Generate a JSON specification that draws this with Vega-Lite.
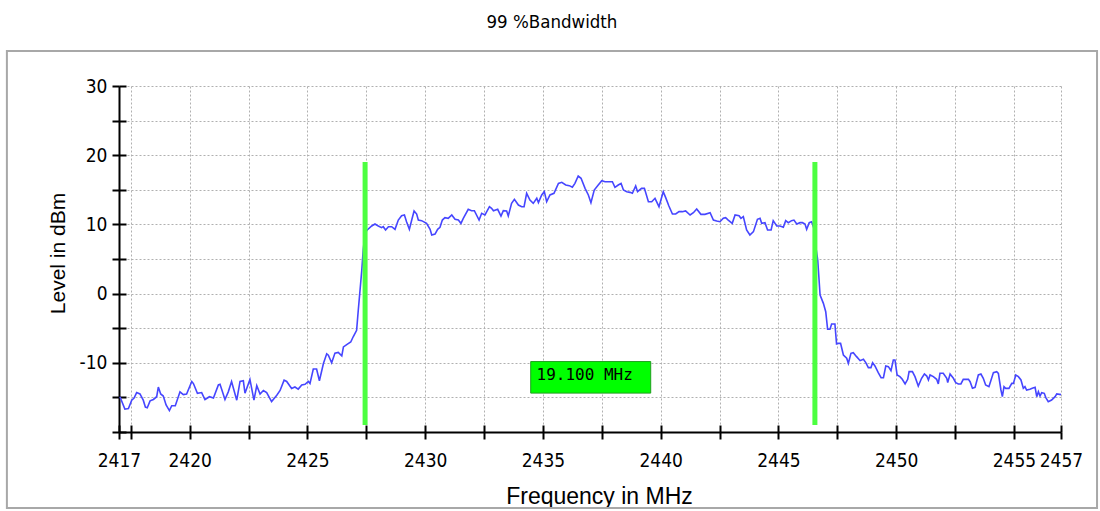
{
  "$schema": "https://vega.github.io/schema/vega-lite/v6.json",
  "autosize": {"type": "none"},
  "width": 942,
  "height": 346,
  "padding": {"left": 119, "top": 86, "right": 39, "bottom": 79},
  "background": "white",
  "config": {"view": {"stroke": null}, "font": "Liberation Sans"},
  "title": {"text": "99 %Bandwidth", "frame": "bounds", "anchor": "middle", "font": "DejaVu Sans Condensed, sans-serif", "fontSize": 18.5, "fontWeight": "normal", "color": "black", "offset": 18},
  "datasets": {
    "trace": [
      {"f":2417.04,"dBm":-14.9},{"f":2417.25,"dBm":-16.7},{"f":2417.40,"dBm":-16.6},{"f":2417.54,"dBm":-15.4},{"f":2417.64,"dBm":-15.1},{"f":2417.75,"dBm":-14.3},{"f":2417.89,"dBm":-14.5},{"f":2418.03,"dBm":-15.4},{"f":2418.12,"dBm":-16.4},{"f":2418.20,"dBm":-16.5},{"f":2418.32,"dBm":-15.5},{"f":2418.46,"dBm":-15.3},{"f":2418.60,"dBm":-14.9},{"f":2418.67,"dBm":-13.5},{"f":2418.77,"dBm":-14.5},{"f":2418.88,"dBm":-14.8},{"f":2419.00,"dBm":-16.1},{"f":2419.14,"dBm":-16.9},{"f":2419.24,"dBm":-16.2},{"f":2419.39,"dBm":-16.2},{"f":2419.59,"dBm":-14.2},{"f":2419.73,"dBm":-14.6},{"f":2419.87,"dBm":-14.5},{"f":2420.09,"dBm":-12.7},{"f":2420.16,"dBm":-13.0},{"f":2420.33,"dBm":-14.4},{"f":2420.51,"dBm":-14.3},{"f":2420.65,"dBm":-15.3},{"f":2420.84,"dBm":-14.9},{"f":2421.01,"dBm":-15.1},{"f":2421.22,"dBm":-13.2},{"f":2421.29,"dBm":-13.1},{"f":2421.50,"dBm":-15.3},{"f":2421.64,"dBm":-14.2},{"f":2421.78,"dBm":-12.7},{"f":2422.00,"dBm":-15.4},{"f":2422.14,"dBm":-12.7},{"f":2422.28,"dBm":-12.6},{"f":2422.35,"dBm":-14.4},{"f":2422.56,"dBm":-12.4},{"f":2422.73,"dBm":-15.4},{"f":2422.85,"dBm":-13.3},{"f":2422.99,"dBm":-14.5},{"f":2423.13,"dBm":-14.0},{"f":2423.27,"dBm":-14.3},{"f":2423.48,"dBm":-15.6},{"f":2423.70,"dBm":-14.7},{"f":2423.84,"dBm":-14.0},{"f":2424.01,"dBm":-12.5},{"f":2424.12,"dBm":-12.7},{"f":2424.33,"dBm":-13.7},{"f":2424.47,"dBm":-13.5},{"f":2424.61,"dBm":-13.8},{"f":2424.76,"dBm":-13.2},{"f":2424.90,"dBm":-13.1},{"f":2425.04,"dBm":-12.7},{"f":2425.11,"dBm":-13.0},{"f":2425.25,"dBm":-10.9},{"f":2425.39,"dBm":-10.9},{"f":2425.51,"dBm":-12.6},{"f":2425.68,"dBm":-10.1},{"f":2425.82,"dBm":-8.7},{"f":2425.89,"dBm":-8.9},{"f":2426.03,"dBm":-10.0},{"f":2426.17,"dBm":-8.6},{"f":2426.31,"dBm":-8.5},{"f":2426.46,"dBm":-9.0},{"f":2426.53,"dBm":-7.7},{"f":2426.70,"dBm":-7.3},{"f":2426.84,"dBm":-7.0},{"f":2426.95,"dBm":-6.2},{"f":2427.09,"dBm":-5.3},{"f":2427.16,"dBm":-2.4},{"f":2427.31,"dBm":3.4},{"f":2427.37,"dBm":6.3},{"f":2427.45,"dBm":8.8},
      {"f":2427.54,"dBm":9.19},{"f":2427.73,"dBm":9.77},{"f":2427.87,"dBm":10.06},{"f":2428.01,"dBm":9.77},{"f":2428.15,"dBm":9.53},{"f":2428.22,"dBm":9.67},{"f":2428.32,"dBm":9.19},{"f":2428.44,"dBm":9.67},{"f":2428.58,"dBm":9.67},{"f":2428.72,"dBm":9.29},{"f":2428.86,"dBm":10.63},{"f":2429.00,"dBm":11.26},{"f":2429.12,"dBm":11.36},{"f":2429.21,"dBm":10.39},{"f":2429.33,"dBm":9.29},{"f":2429.43,"dBm":10.63},{"f":2429.53,"dBm":11.94},{"f":2429.64,"dBm":11.50},{"f":2429.71,"dBm":10.63},{"f":2429.85,"dBm":10.54},{"f":2430.06,"dBm":10.15},{"f":2430.21,"dBm":9.29},{"f":2430.28,"dBm":8.47},{"f":2430.42,"dBm":8.61},{"f":2430.53,"dBm":9.29},{"f":2430.63,"dBm":9.58},{"f":2430.73,"dBm":10.63},{"f":2430.84,"dBm":10.97},{"f":2430.98,"dBm":10.88},{"f":2431.13,"dBm":11.36},{"f":2431.27,"dBm":10.73},{"f":2431.41,"dBm":10.63},{"f":2431.52,"dBm":10.15},{"f":2431.62,"dBm":10.88},{"f":2431.83,"dBm":12.18},{"f":2431.97,"dBm":11.98},{"f":2432.09,"dBm":11.98},{"f":2432.29,"dBm":10.63},{"f":2432.40,"dBm":11.60},{"f":2432.54,"dBm":11.36},{"f":2432.73,"dBm":12.56},{"f":2432.82,"dBm":12.32},{"f":2432.90,"dBm":11.98},{"f":2433.08,"dBm":12.18},{"f":2433.22,"dBm":11.21},{"f":2433.32,"dBm":11.98},{"f":2433.46,"dBm":11.94},{"f":2433.53,"dBm":11.21},{"f":2433.67,"dBm":13.04},{"f":2433.79,"dBm":13.62},{"f":2433.96,"dBm":12.80},{"f":2434.10,"dBm":12.56},{"f":2434.20,"dBm":12.56},{"f":2434.31,"dBm":14.49},{"f":2434.45,"dBm":13.52},{"f":2434.59,"dBm":13.04},{"f":2434.74,"dBm":13.77},{"f":2434.81,"dBm":13.14},{"f":2434.95,"dBm":14.25},{"f":2435.06,"dBm":14.73},{"f":2435.16,"dBm":13.28},{"f":2435.30,"dBm":14.25},{"f":2435.47,"dBm":14.49},{"f":2435.66,"dBm":15.93},{"f":2435.80,"dBm":16.08},{"f":2435.97,"dBm":15.69},{"f":2436.12,"dBm":15.60},{"f":2436.25,"dBm":15.36},{"f":2436.36,"dBm":15.93},{"f":2436.50,"dBm":16.99},{"f":2436.62,"dBm":16.66},{"f":2436.79,"dBm":15.21},{"f":2436.93,"dBm":14.25},{"f":2437.04,"dBm":13.14},{"f":2437.18,"dBm":14.97},{"f":2437.35,"dBm":15.69},{"f":2437.50,"dBm":16.32},
      {"f":2437.64,"dBm":16.17},{"f":2437.78,"dBm":16.17},{"f":2437.95,"dBm":16.17},{"f":2438.06,"dBm":15.36},{"f":2438.20,"dBm":15.69},{"f":2438.32,"dBm":15.93},{"f":2438.42,"dBm":14.97},{"f":2438.56,"dBm":14.73},{"f":2438.70,"dBm":14.63},{"f":2438.80,"dBm":14.49},{"f":2438.94,"dBm":15.55},{"f":2439.02,"dBm":14.73},{"f":2439.19,"dBm":15.21},{"f":2439.31,"dBm":15.21},{"f":2439.48,"dBm":13.28},{"f":2439.62,"dBm":13.28},{"f":2439.76,"dBm":13.77},{"f":2439.93,"dBm":12.56},{"f":2440.11,"dBm":14.73},{"f":2440.21,"dBm":13.91},{"f":2440.35,"dBm":12.66},{"f":2440.50,"dBm":11.50},{"f":2440.64,"dBm":11.50},{"f":2440.78,"dBm":11.84},{"f":2440.92,"dBm":11.84},{"f":2441.06,"dBm":11.94},{"f":2441.25,"dBm":11.36},{"f":2441.39,"dBm":11.69},{"f":2441.53,"dBm":12.22},{"f":2441.71,"dBm":11.45},{"f":2441.88,"dBm":11.45},{"f":2442.10,"dBm":11.69},{"f":2442.24,"dBm":10.63},{"f":2442.38,"dBm":10.49},{"f":2442.52,"dBm":10.39},{"f":2442.66,"dBm":10.88},{"f":2442.76,"dBm":10.97},{"f":2442.87,"dBm":10.63},{"f":2443.04,"dBm":10.15},{"f":2443.16,"dBm":11.36},{"f":2443.33,"dBm":11.26},{"f":2443.41,"dBm":10.88},{"f":2443.51,"dBm":11.12},{"f":2443.65,"dBm":9.19},{"f":2443.79,"dBm":8.47},{"f":2443.94,"dBm":8.95},{"f":2444.11,"dBm":10.73},{"f":2444.22,"dBm":10.88},{"f":2444.29,"dBm":10.15},{"f":2444.43,"dBm":10.25},{"f":2444.54,"dBm":9.19},{"f":2444.69,"dBm":9.19},{"f":2444.78,"dBm":10.54},{"f":2444.93,"dBm":9.77},{"f":2445.07,"dBm":9.77},{"f":2445.21,"dBm":9.58},{"f":2445.31,"dBm":10.54},{"f":2445.42,"dBm":10.25},{"f":2445.56,"dBm":10.54},{"f":2445.66,"dBm":10.63},{"f":2445.78,"dBm":10.06},{"f":2445.92,"dBm":10.25},{"f":2446.02,"dBm":10.25},{"f":2446.13,"dBm":10.06},{"f":2446.20,"dBm":9.29},{"f":2446.31,"dBm":10.25},{"f":2446.41,"dBm":10.39},{"f":2446.50,"dBm":9.5},{"f":2446.60,"dBm":6.5},
      {"f":2446.67,"dBm":4.86},{"f":2446.77,"dBm":-0.2},{"f":2446.91,"dBm":-1.41},{"f":2447.01,"dBm":-2.61},{"f":2447.09,"dBm":-5.16},{"f":2447.19,"dBm":-5.16},{"f":2447.26,"dBm":-4.39},{"f":2447.40,"dBm":-4.39},{"f":2447.47,"dBm":-7.28},{"f":2447.55,"dBm":-7.19},{"f":2447.64,"dBm":-7.19},{"f":2447.76,"dBm":-8.87},{"f":2447.90,"dBm":-9.35},{"f":2447.97,"dBm":-10.08},{"f":2448.08,"dBm":-8.63},{"f":2448.18,"dBm":-8.53},{"f":2448.32,"dBm":-9.11},{"f":2448.47,"dBm":-9.69},{"f":2448.61,"dBm":-9.50},{"f":2448.71,"dBm":-9.98},{"f":2448.82,"dBm":-10.70},{"f":2448.93,"dBm":-10.70},{"f":2449.00,"dBm":-9.98},{"f":2449.10,"dBm":-10.46},{"f":2449.24,"dBm":-11.42},{"f":2449.36,"dBm":-12.15},{"f":2449.46,"dBm":-12.15},{"f":2449.56,"dBm":-10.46},{"f":2449.67,"dBm":-10.56},{"f":2449.78,"dBm":-11.14},{"f":2449.88,"dBm":-9.59},{"f":2449.95,"dBm":-9.59},{"f":2450.04,"dBm":-11.76},{"f":2450.16,"dBm":-12.0},{"f":2450.26,"dBm":-12.39},{"f":2450.38,"dBm":-13.06},{"f":2450.49,"dBm":-12.39},{"f":2450.55,"dBm":-11.28},{"f":2450.69,"dBm":-11.28},{"f":2450.80,"dBm":-12.0},{"f":2450.94,"dBm":-13.35},{"f":2451.08,"dBm":-12.24},{"f":2451.20,"dBm":-11.62},{"f":2451.30,"dBm":-11.91},{"f":2451.37,"dBm":-12.48},{"f":2451.44,"dBm":-11.76},{"f":2451.58,"dBm":-12.0},{"f":2451.72,"dBm":-12.39},{"f":2451.79,"dBm":-13.06},{"f":2451.86,"dBm":-11.52},{"f":2452.00,"dBm":-11.52},{"f":2452.15,"dBm":-12.24},{"f":2452.19,"dBm":-12.87},{"f":2452.29,"dBm":-11.62},{"f":2452.43,"dBm":-12.24},{"f":2452.53,"dBm":-12.87},{"f":2452.64,"dBm":-13.06},{"f":2452.75,"dBm":-13.06},{"f":2452.85,"dBm":-12.39},{"f":2453.07,"dBm":-12.39},{"f":2453.14,"dBm":-12.73},{"f":2453.24,"dBm":-13.69},{"f":2453.35,"dBm":-13.55},{"f":2453.49,"dBm":-11.76},{"f":2453.60,"dBm":-11.62},{"f":2453.70,"dBm":-12.24},{"f":2453.80,"dBm":-13.21},{"f":2453.94,"dBm":-13.45},{"f":2454.03,"dBm":-12.48},{"f":2454.13,"dBm":-11.42},{"f":2454.27,"dBm":-11.28},{"f":2454.34,"dBm":-11.52},{"f":2454.45,"dBm":-13.93},{"f":2454.51,"dBm":-14.89},{"f":2454.58,"dBm":-13.45},{"f":2454.65,"dBm":-13.69},{"f":2454.79,"dBm":-13.69},{"f":2454.91,"dBm":-12.97},{"f":2454.98,"dBm":-12.97},{"f":2455.08,"dBm":-11.76},{"f":2455.19,"dBm":-12.0},{"f":2455.30,"dBm":-12.48},{"f":2455.40,"dBm":-13.69},{"f":2455.47,"dBm":-13.45},{"f":2455.54,"dBm":-13.93},{"f":2455.68,"dBm":-13.83},{"f":2455.78,"dBm":-13.69},{"f":2455.90,"dBm":-13.55},{"f":2455.97,"dBm":-14.89},{"f":2456.04,"dBm":-14.17},{"f":2456.11,"dBm":-14.80},{"f":2456.18,"dBm":-14.31},{"f":2456.29,"dBm":-14.41},{"f":2456.35,"dBm":-14.99},{"f":2456.46,"dBm":-15.62},{"f":2456.60,"dBm":-15.38},{"f":2456.75,"dBm":-14.89},{"f":2456.82,"dBm":-14.50},{"f":2457.00,"dBm":-14.6}
    ],
    "markers": [{"f": 2427.45}, {"f": 2446.55}],
    "bw": [{"f": 2437.03, "dBm": -12.1, "label": "19.100 MHz"}]
  },
  "resolve": {"axis": {"x": "independent", "y": "independent"}},
  "layer": [
    {
      "data": {"values": [{}]},
      "mark": {"type": "rect", "filled": false, "stroke": "#a8a8a8", "strokeWidth": 2, "clip": false},
      "encoding": {
        "x": {"datum": 2412.24, "type": "quantitative", "axis": null, "scale": {"domain": [2417, 2457], "nice": false, "zero": false}},
        "x2": {"datum": 2458.53},
        "y": {"datum": 35.06, "type": "quantitative", "axis": null, "scale": {"domain": [-20, 30], "nice": false, "zero": false}},
        "y2": {"datum": -30.98}
      }
    },
    {
      "data": {"name": "trace"},
      "mark": {"type": "line", "color": "#4646ff", "strokeWidth": 1.6},
      "encoding": {
        "x": {
          "field": "f", "type": "quantitative",
          "scale": {"domain": [2417, 2457], "nice": false, "zero": false},
          "axis": {
            "orient": "bottom",
            "values": [2417, 2417.5, 2420, 2422.5, 2425, 2427.5, 2430, 2432.5, 2435, 2437.5, 2440, 2442.5, 2445, 2447.5, 2450, 2452.5, 2455, 2457],
            "labelExpr": "(datum.value % 5 == 0 || datum.value == 2417 || datum.value == 2457) ? '' + datum.value : ''",
            "grid": true, "gridColor": "#b0b0b0", "gridDash": [2, 2], "gridWidth": 1,
            "domainColor": "black", "domainWidth": 2,
            "ticks": true, "tickColor": "black", "tickWidth": 2, "tickSize": 7,
            "labelFont": "DejaVu Sans Condensed, sans-serif", "labelFontSize": 19, "labelColor": "black", "labelPadding": 12,
            "labelOverlap": false, "labelFlush": false,
            "title": "Frequency in MHz", "titleFont": "Liberation Sans", "titleFontSize": 23, "titleFontWeight": "normal", "titleColor": "black",
            "titleX": 480, "titleY": 71, "titleAlign": "center", "titleBaseline": "alphabetic"
          }
        },
        "y": {
          "field": "dBm", "type": "quantitative",
          "scale": {"domain": [-20, 30], "nice": false, "zero": false},
          "axis": {
            "orient": "left",
            "values": [-20, -15, -10, -5, 0, 5, 10, 15, 20, 25, 30],
            "labelExpr": "(datum.value % 10 == 0 && datum.value > -20) ? '' + datum.value : ''",
            "grid": true, "gridColor": "#b0b0b0", "gridDash": [2, 2], "gridWidth": 1,
            "domainColor": "black", "domainWidth": 2,
            "ticks": true, "tickColor": "black", "tickWidth": 2, "tickSize": 7,
            "labelFont": "DejaVu Sans Condensed, sans-serif", "labelFontSize": 19, "labelColor": "black", "labelPadding": 5,
            "labelOverlap": false, "labelFlush": false,
            "title": "Level in dBm", "titleFont": "Liberation Sans", "titleFontSize": 21, "titleFontWeight": "normal", "titleColor": "black",
            "titleAngle": 270, "titleX": -55, "titleY": 167, "titleAlign": "center", "titleBaseline": "alphabetic"
          }
        }
      }
    },
    {
      "data": {"name": "markers"},
      "mark": {"type": "rule", "color": "#4cff40", "strokeWidth": 5},
      "encoding": {
        "x": {
          "field": "f", "type": "quantitative",
          "axis": {
            "orient": "bottom", "offset": -7,
            "values": [2417, 2417.5, 2420, 2422.5, 2425, 2427.5, 2430, 2432.5, 2435, 2437.5, 2440, 2442.5, 2445, 2447.5, 2450, 2452.5, 2455, 2457],
            "domain": false, "labels": false, "grid": false, "title": null,
            "ticks": true, "tickColor": "black", "tickWidth": 2, "tickSize": 7
          }
        },
        "y": {
          "datum": 19, "type": "quantitative",
          "axis": {
            "orient": "left", "offset": -7,
            "values": [-20, -15, -10, -5, 0, 5, 10, 15, 20, 25, 30],
            "domain": false, "labels": false, "grid": false, "title": null,
            "ticks": true, "tickColor": "black", "tickWidth": 2, "tickSize": 7
          }
        },
        "y2": {"datum": -19}
      }
    },
    {
      "data": {"name": "bw"},
      "mark": {"type": "point", "shape": "M-1,-0.263H1V0.263H-1Z", "filled": true, "size": 14400, "fill": "#00ff00", "stroke": "#1f9f1f", "strokeWidth": 1, "opacity": 1},
      "encoding": {
        "x": {"field": "f", "type": "quantitative", "axis": null},
        "y": {"field": "dBm", "type": "quantitative", "axis": null}
      }
    },
    {
      "data": {"name": "bw"},
      "mark": {"type": "text", "font": "DejaVu Sans Mono", "fontSize": 16, "color": "black", "align": "center", "baseline": "middle", "dx": -6, "dy": -2},
      "encoding": {
        "x": {"field": "f", "type": "quantitative", "axis": null},
        "y": {"field": "dBm", "type": "quantitative", "axis": null},
        "text": {"field": "label"}
      }
    }
  ]
}
